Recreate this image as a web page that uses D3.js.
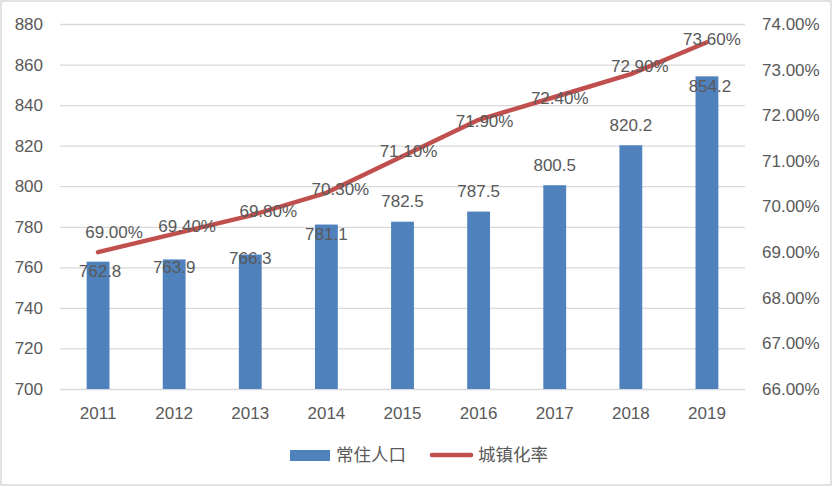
<html>
<head>
  <meta charset="utf-8">
  <script src="https://d3js.org/d3.v7.min.js"></script>
  <style>
    body { margin: 0; background: #fff; }
    text { font-family: "Liberation Sans", "Noto Sans CJK SC", sans-serif; fill: #595959; }
    .gridlines line { stroke: #d9d9d9; stroke-width: 1.3px; }
    .gridlines .domain { stroke: none; }
    .axis .domain { stroke: none; }
    .axis line { stroke: none; }
  </style>
</head>
<body>
  <svg id="chart" width="833" height="487"></svg>
  <script>
    // data
    const years = ["2011", "2012", "2013", "2014", "2015", "2016", "2017", "2018", "2019"];
    const population = [762.8, 763.9, 766.3, 781.1, 782.5, 787.5, 800.5, 820.2, 854.2];
    const urbanRate = [69.0, 69.4, 69.8, 70.3, 71.1, 71.9, 72.4, 72.9, 73.6];
    const leftTicks = [700, 720, 740, 760, 780, 800, 820, 840, 860, 880];
    const rightTicks = [66, 67, 68, 69, 70, 71, 72, 73, 74];
    const seriesNames = ["常住人口", "城镇化率"];

    // label nudges (the labels in the picture are hand placed)
    const popLabelNudge = [[2, 10], [0, 8], [0, 4], [0, 10], [0, -20], [0, -20], [0, -20], [0, -20], [3, 10]];
    const rateLabelNudge = [[16, -20], [13, -7], [18, -4], [14, -3], [6, -5], [6, 2], [5, 1], [9, -8], [5, -3]];

    const svg = d3.select("svg#chart");
    const width = +svg.attr("width");
    const height = +svg.attr("height");
    const margin = { top: 24, right: 88, bottom: 98, left: 60 };
    const chartWidth = width - margin.left - margin.right;
    const chartHeight = height - margin.top - margin.bottom;

    // outer border
    svg.append("rect")
      .attr("x", 1).attr("y", 1)
      .attr("width", width - 3).attr("height", height - 3)
      .attr("fill", "#fff")
      .attr("stroke", "#d9d9d9").attr("stroke-width", 1.5);

    const chartArea = svg.append("g").attr("transform", `translate(${margin.left},${margin.top})`);

    const xScale = d3.scaleBand().domain(years).range([0, chartWidth]).paddingInner(0.7).paddingOuter(0.35);
    const xPoint = d => xScale(d) + xScale.bandwidth() / 2;
    const yLeft = d3.scaleLinear().domain([700, 880]).range([chartHeight, 0]);
    const yRight = d3.scaleLinear().domain([66, 74]).range([chartHeight, 0]);

    // gridlines
    const grid = d3.axisLeft(yLeft).tickValues(leftTicks).tickSize(-chartWidth).tickFormat("");
    chartArea.append("g").attr("class", "gridlines").call(grid);

    // axes
    const fontSize = "17px";
    const leftAxis = d3.axisLeft(yLeft).tickValues(leftTicks).tickSize(0).tickPadding(17);
    chartArea.append("g").attr("class", "axis").call(leftAxis)
      .selectAll("text").style("font-size", fontSize).attr("font-family", null);

    const rightAxis = d3.axisRight(yRight).tickValues(rightTicks).tickSize(0).tickPadding(17)
      .tickFormat(d => d.toFixed(2) + "%");
    chartArea.append("g").attr("class", "axis")
      .attr("transform", `translate(${chartWidth},0)`)
      .call(rightAxis)
      .selectAll("text").style("font-size", fontSize).attr("font-family", null);

    const xAxis = d3.axisBottom(xScale).tickSize(0).tickPadding(18);
    chartArea.append("g").attr("class", "axis")
      .attr("transform", `translate(0,${chartHeight})`)
      .call(xAxis)
      .selectAll("text").style("font-size", fontSize).attr("font-family", null);

    svg.selectAll(".axis").attr("font-family", null);

    // bars
    chartArea.selectAll("rect.bar").data(population)
      .join("rect").attr("class", "bar")
      .attr("x", (d, i) => xScale(years[i]))
      .attr("y", d => yLeft(d))
      .attr("width", xScale.bandwidth())
      .attr("height", d => chartHeight - yLeft(d))
      .attr("fill", "#4f81bd");

    // line
    const line = d3.line()
      .x((d, i) => xPoint(years[i]))
      .y(d => yRight(d));
    chartArea.append("path")
      .datum(urbanRate)
      .attr("d", line)
      .attr("fill", "none")
      .attr("stroke", "#c0504d")
      .attr("stroke-width", 4.5)
      .attr("stroke-linecap", "round")
      .attr("stroke-linejoin", "round");

    // bar labels
    chartArea.selectAll("text.poplabel").data(population)
      .join("text").attr("class", "poplabel")
      .attr("x", (d, i) => xPoint(years[i]) + popLabelNudge[i][0])
      .attr("y", (d, i) => yLeft(d) + popLabelNudge[i][1])
      .attr("text-anchor", "middle")
      .attr("dominant-baseline", "central")
      .style("font-size", fontSize)
      .text(d => d.toFixed(1));

    // line labels
    chartArea.selectAll("text.ratelabel").data(urbanRate)
      .join("text").attr("class", "ratelabel")
      .attr("x", (d, i) => xPoint(years[i]) + rateLabelNudge[i][0])
      .attr("y", (d, i) => yRight(d) + rateLabelNudge[i][1])
      .attr("text-anchor", "middle")
      .attr("dominant-baseline", "central")
      .style("font-size", fontSize)
      .text(d => d.toFixed(2) + "%");

    // legend
    const legend = svg.append("g").attr("transform", "translate(290,455)");
    legend.append("rect")
      .attr("x", 0).attr("y", -5)
      .attr("width", 40).attr("height", 11)
      .attr("fill", "#4f81bd");
    legend.append("text")
      .attr("x", 46).attr("y", 0)
      .attr("dominant-baseline", "central")
      .style("font-size", "17.5px")
      .text(seriesNames[0]);
    legend.append("line")
      .attr("x1", 142).attr("x2", 181)
      .attr("y1", 0).attr("y2", 0)
      .attr("stroke", "#c0504d")
      .attr("stroke-width", 4.5)
      .attr("stroke-linecap", "round");
    legend.append("text")
      .attr("x", 188).attr("y", 0)
      .attr("dominant-baseline", "central")
      .style("font-size", "17.5px")
      .text(seriesNames[1]);
  </script>
</body>
</html>
